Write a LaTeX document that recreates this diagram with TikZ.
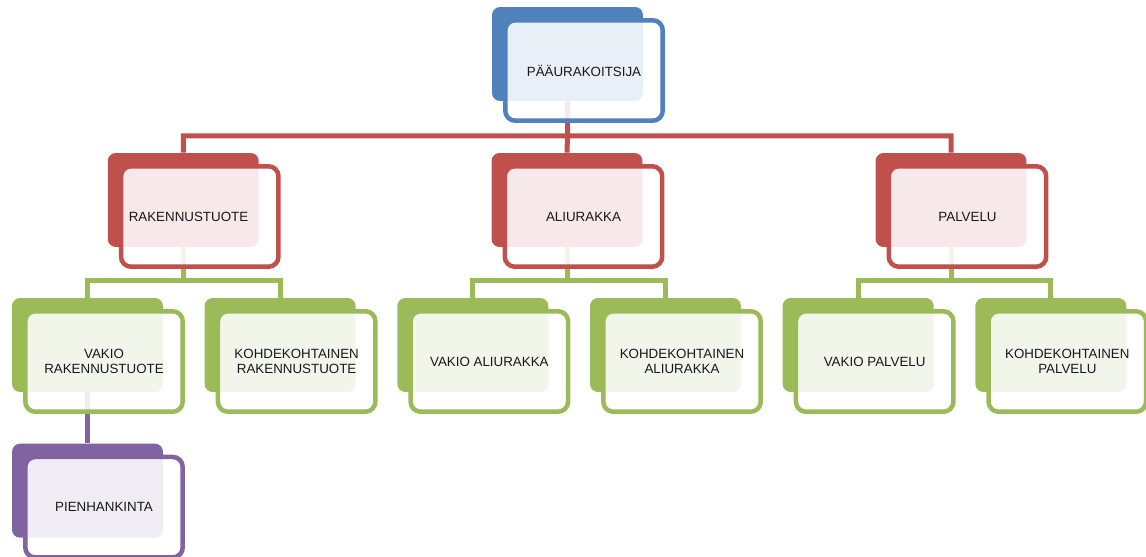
\documentclass[tikz,border=0pt]{standalone}
\usepackage{fontspec}
\setmainfont{Liberation Sans}
\usepackage{xcolor}
\usepackage{tikz}
\usetikzlibrary{positioning}

\definecolor{accblue}{HTML}{4F81BD}
\definecolor{accred}{HTML}{C0504D}
\definecolor{accgreen}{HTML}{9BBB59}
\definecolor{accpurple}{HTML}{8064A2}

\begin{document}
\begin{tikzpicture}[
    x=0.02cm, y=-0.02cm,
    node distance=1.02cm and 0.82cm,
    back/.style={
        fill=#1,
        rounded corners=0.16cm,
        minimum width=3.02cm,
        minimum height=1.88cm,
        inner sep=0pt
    },
    front/.style={
        draw=#1,
        line width=0.09cm,
        rounded corners=0.2cm,
        fill=white,
        fill opacity=0.88,
        text opacity=1,
        text=black!90,
        align=center,
        font=\fontsize{7.6}{8.7}\selectfont,
        minimum width=3.15cm,
        minimum height=2.01cm,
        inner sep=0pt,
        xshift=0.33cm,
        yshift=-0.33cm
    },
    link/.style={draw=#1, line width=0.1cm}
]
\useasboundingbox (0,0) rectangle (1146,557);

% back boxes
\node[back=accblue] (paa-bg) at (567.5,54) {};
\node[back=accred] (rak-bg) at (183.25,200) {};
\node[back=accred] (ali-bg) at (567,200) {};
\node[back=accred] (pal-bg) at (951,200) {};
\node[back=accgreen] (vrak-bg) at (87.5,345) {};
\node[back=accgreen, right=of vrak-bg] (krak-bg) {};
\node[back=accgreen, right=of krak-bg] (vali-bg) {};
\node[back=accgreen, right=of vali-bg] (kali-bg) {};
\node[back=accgreen, right=of kali-bg] (vpal-bg) {};
\node[back=accgreen, right=of vpal-bg] (kpal-bg) {};
\node[back=accpurple, below=of vrak-bg] (pien-bg) {};

% connectors
\draw[link=accred] (paa-bg.south) -- ++(0,34.5) coordinate (j1)
    -| (rak-bg.north) (j1) -| (pal-bg.north) (j1) -- (ali-bg.north);
\draw[link=accgreen] (rak-bg.south) -- ++(0,33) coordinate (j2)
    -| (vrak-bg.north) (j2) -| (krak-bg.north);
\draw[link=accgreen] (ali-bg.south) -- ++(0,33) coordinate (j3)
    -| (vali-bg.north) (j3) -| (kali-bg.north);
\draw[link=accgreen] (pal-bg.south) -- ++(0,33) coordinate (j4)
    -| (vpal-bg.north) (j4) -| (kpal-bg.north);
\draw[link=accpurple] (vrak-bg.south) -- (pien-bg.north);

% front boxes with text
\node[front=accblue] (paa) at (paa-bg) {PÄÄURAKOITSIJA};
\node[front=accred, text width=2.84cm, align=left, inner xsep=0.155cm] (rak) at (rak-bg) {RAKENNUSTUOTE};
\node[front=accred] (ali) at (ali-bg) {ALIURAKKA};
\node[front=accred] (pal) at (pal-bg) {PALVELU};
\node[front=accgreen] (vrak) at (vrak-bg) {VAKIO\\RAKENNUSTUOTE};
\node[front=accgreen] (krak) at (krak-bg) {KOHDEKOHTAINEN\\RAKENNUSTUOTE};
\node[front=accgreen] (vali) at (vali-bg) {VAKIO ALIURAKKA};
\node[front=accgreen] (kali) at (kali-bg) {KOHDEKOHTAINEN\\ALIURAKKA};
\node[front=accgreen] (vpal) at (vpal-bg) {VAKIO PALVELU};
\node[front=accgreen] (kpal) at (kpal-bg) {KOHDEKOHTAINEN\\PALVELU};
\node[front=accpurple] (pien) at (pien-bg) {PIENHANKINTA};

\end{tikzpicture}
\end{document}
